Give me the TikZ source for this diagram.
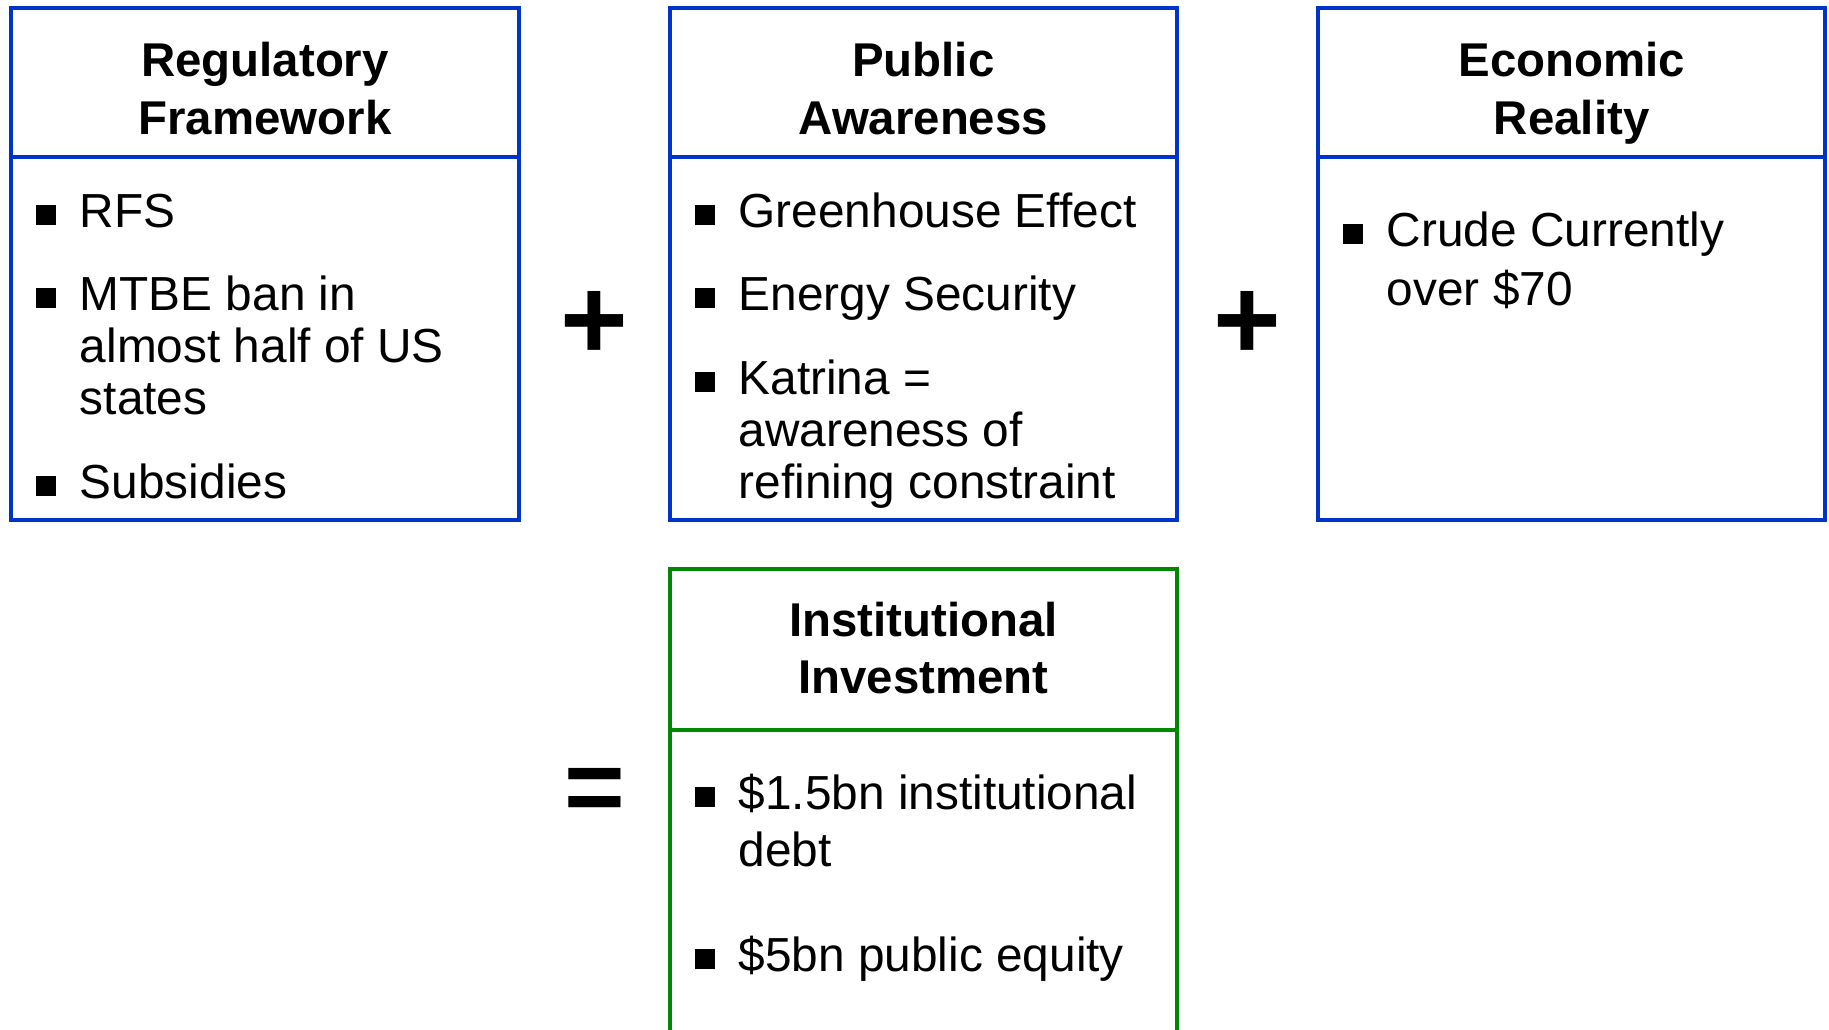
\documentclass[tikz,border=0pt]{standalone}
\usepackage{fontspec}
\setmainfont{Liberation Sans}
\usetikzlibrary{positioning}
\definecolor{boxblue}{RGB}{0,51,204}
\definecolor{boxgreen}{RGB}{0,136,0}
\tikzset{
frame/.style = {line width = 2pt, color = boxblue},
gframe/.style = {line width = 2pt, color = boxgreen},
head/.style = {font = \bfseries\fontsize{23.7}{29}\selectfont, align = center, anchor = base, inner sep = 0pt},
item/.style = {font = \fontsize{23.9}{26}\selectfont, align = left, anchor = base west, inner sep = 0pt},
sign/.style = {font = \bfseries\fontsize{58}{58}\selectfont, inner sep = 0pt}
}
\newcommand{\bul}{\llap{\rule[1.25pt]{10pt}{10pt}\hspace{12pt}}}

\begin{document}
\begin{tikzpicture}[x=0.5pt,y=-0.5pt]
%
\useasboundingbox (0,0) rectangle (1829,1029);
\clip (0,0) rectangle (1829,1029);
%
\def\ytop{7.7}
\def\ydiv{157}
\def\ybot{520.3}
\def\boxlist{11/519/reg/{Regulatory\\Framework},669.7/1177/pub/{Public\\Awareness},1318/1825.3/eco/{Economic\\Reality}}
%
\foreach \xl/\xr/\nm/\tag in \boxlist {
\draw[frame] (\xl,\ytop) rectangle (\xr,\ybot);
\draw[frame] (\xl,\ydiv) -- (\xr,\ydiv);
\node[head] (\nm) at ({(\xl+\xr)/2},134.5) {\tag};
}
%
\node[item] (rfs) at (79.5,227) {\bul RFS};
\node[item] (mtbe) at (79.5,414) {\bul MTBE ban in\\almost half of US\\states};
\node[item] (subs) at (79.5,498) {\bul Subsidies};
%
\node[item] (ghe) at (738.2,227) {\bul Greenhouse Effect};
\node[item] (ensec) at (738.2,310) {\bul Energy Security};
\node[item] (katr) at (738.2,498) {\bul Katrina =\\awareness of\\refining constraint};
%
\node[item, font = \fontsize{23.9}{29.25}\selectfont] (crude) at (1386.5,305) {\bul Crude Currently\\over \$70};
%
\draw[gframe] (669.7,1040) -- (669.7,569.3) -- (1177,569.3) -- (1177,1040);
\draw[gframe] (669.7,729.7) -- (1177,729.7);
\node[head, font = \bfseries\fontsize{23.7}{28.5}\selectfont] (inv) at (923.35,693.5) {Institutional\\Investment};
\node[item, font = \fontsize{23.9}{28.5}\selectfont] (debt) at (738.2,866) {\bul \$1.5bn institutional\\debt};
\node[item] (equity) at (738.2,971) {\bul \$5bn public equity};
%
\node[sign] (plusa) at (594.5,325) {+};
\node[sign] (plusb) at (1247,325) {+};
\node[sign, font = \bfseries\fontsize{52}{52}\selectfont] (eq) at (594.5,795) {=};
%
\end{tikzpicture}
\end{document}
